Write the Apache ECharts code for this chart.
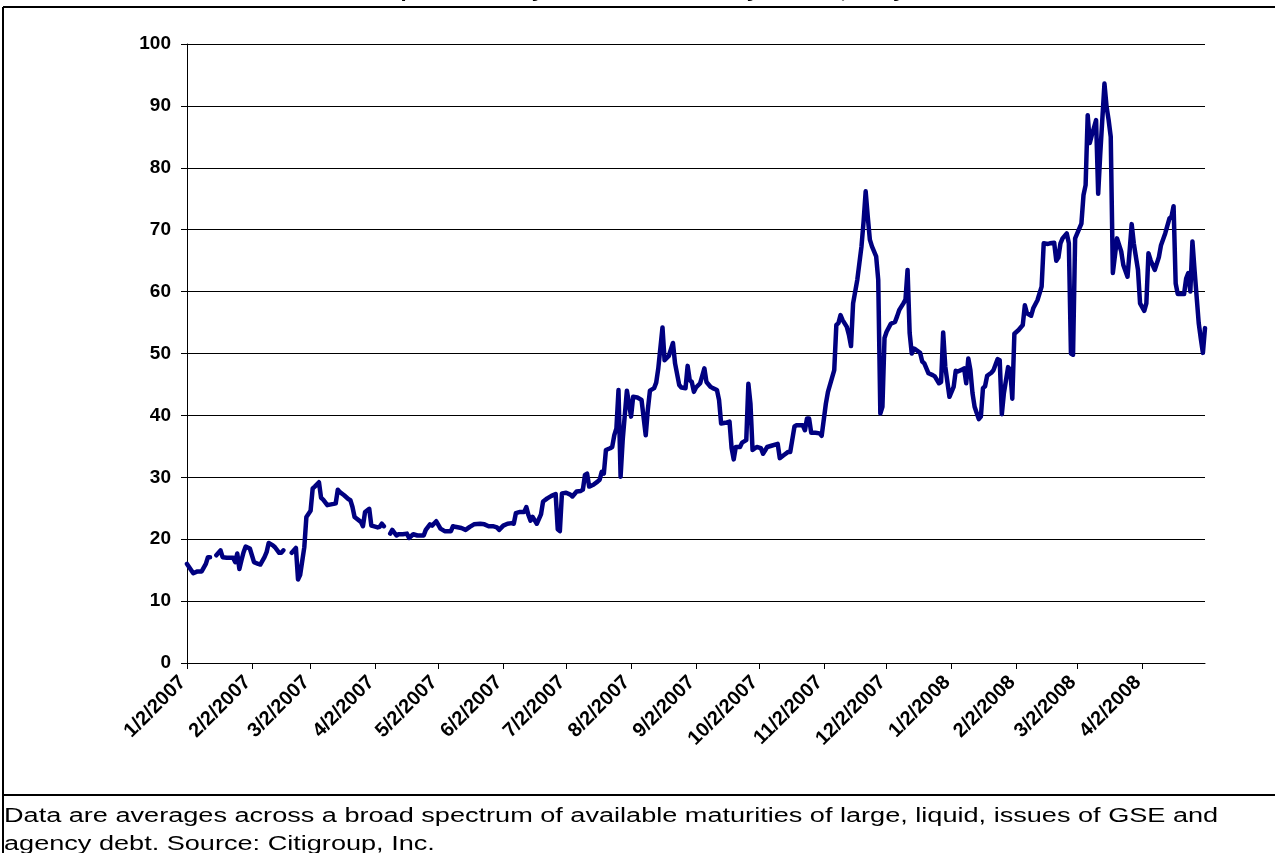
<!DOCTYPE html>
<html>
<head>
<meta charset="utf-8">
<script src="https://cdn.jsdelivr.net/npm/echarts@6/dist/echarts.min.js"></script>
<style>
html,body{margin:0;padding:0;background:#fff;}
#chart{width:1275px;height:853px;}
</style>
</head>
<body>
<div id="chart"></div>
<script>
// ---- data ----
const startDate = [2007, 1, 2];   // first observation / axis start (Y, M, D)
const endDate = [2008, 5, 2];     // axis end (Y, M, D)
const tickLabels = ['1/2/2007','2/2/2007','3/2/2007','4/2/2007','5/2/2007','6/2/2007','7/2/2007','8/2/2007',
  '9/2/2007','10/2/2007','11/2/2007','12/2/2007','1/2/2008','2/2/2008','3/2/2008','4/2/2008'];
const yMin = 0, yMax = 100, yStep = 10;
const titleText = 'Implicit Subsidy Value Rose Steadily in 2007, Daily';
const footnoteLines = [
  'Data are averages across a broad spectrum of available maturities of large, liquid, issues of GSE and',
  'agency debt. Source: Citigroup, Inc.'
];
// observation day (days after startDate); null values mark missing data
const obsDay = [
  0,3,5,7,9,10,11,12,14,16,
  17,19,21,22,23,24,25,26,27,28,
  30,32,34,35,37,38,39,41,42,44,
  45,46,48,50,52,53,54,56,57,59,
  60,61,63,64,65,67,70,71,72,73,
  75,77,78,79,80,83,84,85,87,88,
  89,91,92,93,94,95,97,98,100,101,
  103,105,106,108,110,113,114,116,117,119,
  121,123,126,127,128,131,133,135,137,140,
  142,144,146,148,149,151,153,155,156,157,
  159,161,162,163,164,165,167,169,170,172,
  174,176,177,178,179,181,183,184,186,188,
  189,190,191,192,194,196,197,198,199,200,
  202,203,204,205,206,207,208,210,211,212,
  213,215,217,219,220,221,223,224,225,227,
  228,230,232,233,235,236,238,239,240,241,
  242,243,245,247,248,250,251,253,254,255,
  257,259,260,261,262,264,265,267,268,269,
  270,272,274,275,277,279,282,283,285,287,
  288,290,291,294,295,296,297,298,300,302,
  303,305,306,309,310,311,312,313,315,316,
  317,318,320,322,323,324,325,326,327,329,
  330,331,332,333,334,336,338,339,340,342,
  343,344,345,346,347,348,350,351,352,354,
  356,357,359,360,361,362,364,366,367,368,
  370,371,372,373,374,375,376,378,379,380,
  381,382,384,385,387,388,389,390,392,393,
  394,395,397,399,400,401,403,404,406,408,
  409,411,412,414,415,416,417,418,420,421,
  422,423,424,425,427,428,429,430,431,432,
  434,435,436,438,439,440,441,442,444,446,
  447,449,450,451,452,454,455,457,458,459,
  460,462,464,465,467,469,470,471,472,473,
  474,476,477,478,479,480,481,483,484,485,
  486
];
const obsValue = [
  16.0,14.5,14.8,14.8,16.0,17.1,17.1,null,17.4,18.2,
  17.1,17.0,17.0,17.0,16.3,17.7,15.2,16.6,17.9,18.8,
  18.5,16.3,16.0,15.9,17.1,17.9,19.4,19.0,18.7,17.8,
  17.8,18.2,null,17.8,18.6,13.5,14.2,18.7,23.6,24.6,
  28.2,28.5,29.2,26.7,26.4,25.5,25.7,25.8,28.0,27.6,
  27.1,26.5,26.3,25.2,23.6,22.8,22.1,24.4,24.9,22.2,
  22.1,21.9,22.0,22.5,22.1,null,20.9,21.5,20.6,20.8,
  20.8,20.9,20.2,20.8,20.6,20.6,21.5,22.4,22.2,22.9,
  21.7,21.3,21.3,22.1,22.0,21.8,21.5,22.0,22.4,22.5,
  22.4,22.1,22.1,21.9,21.5,22.2,22.5,22.6,22.5,24.2,
  24.4,24.4,25.2,23.9,23.0,23.6,22.5,24.0,26.1,26.6,
  27.0,27.3,21.6,21.3,27.4,27.5,27.2,26.9,27.7,27.8,
  28.0,30.4,30.6,28.5,28.8,29.3,29.6,30.9,30.6,34.4,
  34.7,34.9,36.8,37.9,44.1,30.1,36.0,44.0,41.9,39.8,
  43.0,42.9,42.5,36.8,40.9,44.0,44.4,45.3,47.6,54.2,
  48.9,49.6,51.7,48.4,44.9,44.5,44.4,48.0,45.7,45.4,
  43.8,44.5,45.2,47.6,45.4,44.6,44.4,44.1,42.5,38.7,
  38.8,39.0,34.7,32.9,34.9,34.9,35.6,36.0,45.1,41.9,
  34.4,34.9,34.7,33.8,34.9,35.1,35.4,33.1,33.6,34.1,
  34.1,38.2,38.4,38.4,37.6,39.5,39.5,37.2,37.2,37.1,
  36.7,41.9,43.8,47.3,54.6,54.9,56.2,55.4,54.3,53.0,
  51.2,58.1,61.9,67.3,71.3,76.2,72.1,68.4,67.3,65.7,
  61.9,40.3,41.4,52.5,53.5,54.8,55.1,56.0,57.0,58.1,
  58.7,63.5,53.3,50.0,50.8,50.6,50.1,48.7,48.4,46.8,
  46.5,46.3,45.2,45.4,53.4,47.9,43.0,44.6,47.2,47.1,
  47.4,47.6,45.2,49.2,47.3,43.6,41.4,39.4,39.8,44.4,
  44.7,46.4,46.9,47.3,49.1,48.9,40.2,43.6,47.8,47.4,
  42.7,53.2,53.8,54.6,57.8,56.5,56.1,57.3,58.6,60.8,
  67.8,67.7,67.8,67.9,65.0,65.5,67.8,68.6,69.4,67.8,
  50.0,49.8,68.6,69.4,71.0,75.6,77.2,88.5,84.0,85.3,
  87.7,75.8,82.3,93.6,89.9,87.7,85.0,63.0,68.6,66.5,
  64.3,62.4,66.5,70.9,67.8,63.5,58.1,56.9,58.1,66.2,
  65.1,63.5,65.6,67.5,69.4,71.8,72.1,73.8,61.3,59.6,
  59.6,59.6,62.1,63.0,60.0,68.1,63.5,54.9,52.4,50.1,
  54.1
];

// ---- build ----
function ts(y, m, d) { return new Date(y, m - 1, d).getTime(); }
const tStart = ts(startDate[0], startDate[1], startDate[2]);
const tEnd = ts(endDate[0], endDate[1], endDate[2]);
const seriesData = obsDay.map((d, i) =>
  [new Date(startDate[0], startDate[1] - 1, startDate[2] + d).getTime(), obsValue[i]]);
const tickValues = tickLabels.map(s => { const p = s.split('/').map(Number); return ts(p[2], p[0], p[1]); });
function fmtDate(v) { const d = new Date(v); return (d.getMonth() + 1) + '/' + d.getDate() + '/' + d.getFullYear(); }

const FONT = '"Liberation Sans", Arial, Helvetica, sans-serif';
const chart = echarts.init(document.getElementById('chart'), null, { renderer: 'canvas' });
chart.setOption({
  backgroundColor: '#ffffff',
  animation: false,
  grid: { left: 187, right: 70, top: 44, bottom: 190, containLabel: false },
  xAxis: {
    type: 'value',
    min: tStart,
    max: tEnd,
    scale: true,
    axisLine: { show: true, lineStyle: { color: '#000', width: 1 } },
    axisTick: { show: true, customValues: tickValues, length: 6, lineStyle: { color: '#000', width: 1 } },
    axisLabel: {
      customValues: tickValues,
      formatter: fmtDate,
      rotate: 45,
      hideOverlap: false,
      margin: 12,
      padding: [0, 6, 0, 0],
      color: '#000',
      fontFamily: FONT,
      fontWeight: 'bold',
      fontSize: 20
    },
    splitLine: { show: false },
    minorTick: { show: false }
  },
  yAxis: {
    type: 'value',
    min: yMin,
    max: yMax,
    interval: yStep,
    axisLine: { show: true, lineStyle: { color: '#000', width: 1 } },
    axisTick: { show: true, length: 6, lineStyle: { color: '#000', width: 1 } },
    axisLabel: { margin: 16, color: '#000', fontFamily: FONT, fontWeight: 'bold', fontSize: 19 },
    splitLine: { show: true, lineStyle: { color: '#000', width: 1 } }
  },
  series: [{
    type: 'line',
    data: seriesData,
    showSymbol: false,
    connectNulls: false,
    smooth: false,
    lineStyle: { color: '#000080', width: 4.5, join: 'round', cap: 'round' },
    itemStyle: { color: '#000080' }
  }],
  graphic: [
    { type: 'text', x: 640, y: 2, z: 10, scaleX: 1.3,
      style: { text: titleText, font: 'bold 17px ' + FONT, align: 'center', verticalAlign: 'bottom', fill: '#000' } },
    { type: 'line', z: 20, shape: { x1: 3, y1: 7, x2: 1275, y2: 7 }, style: { stroke: '#000', lineWidth: 2 } },
    { type: 'line', z: 20, shape: { x1: 3, y1: 7, x2: 3, y2: 853 }, style: { stroke: '#000', lineWidth: 2 } },
    { type: 'line', z: 20, shape: { x1: 3, y1: 795, x2: 1275, y2: 795 }, style: { stroke: '#000', lineWidth: 2 } },
    { type: 'text', x: 4, y: 802, z: 10, scaleX: 1.355,
      style: { text: footnoteLines.join('\n'), font: '20px ' + FONT, lineHeight: 28, align: 'left', verticalAlign: 'top', fill: '#000' } }
  ]
});
</script>
</body>
</html>
